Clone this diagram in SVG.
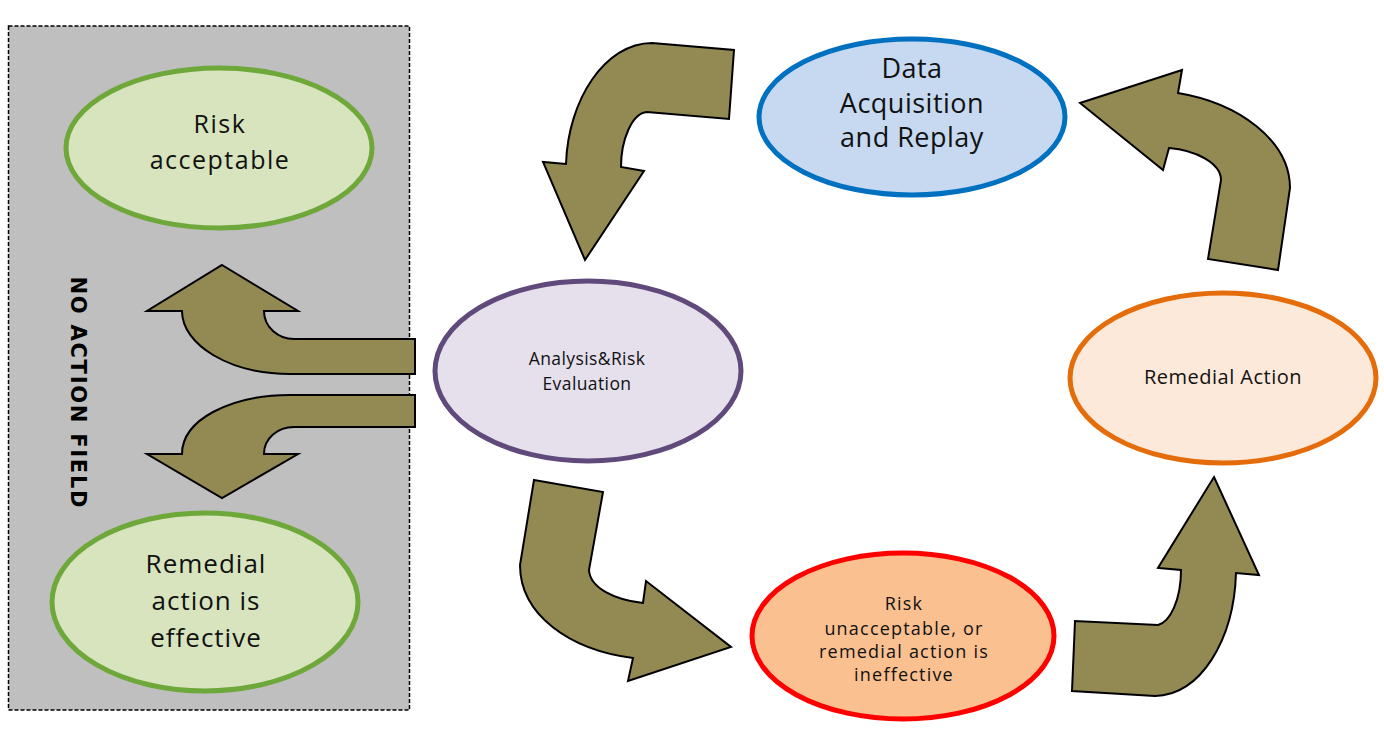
<svg xmlns="http://www.w3.org/2000/svg" width="1384" height="735" viewBox="0 0 1384 735">
  <style>
    .arrow { fill: #938953; stroke: #000; stroke-width: 2; stroke-linejoin: miter; }
    .node ellipse { stroke-width: 5; }
    .label { font-family: "Open Sans", "Liberation Sans", sans-serif; fill: #111; text-anchor: middle; }
    .big { font-size: 27px; letter-spacing: 0.5px; }
    .mid { font-size: 25px; letter-spacing: 1.5px; }
    .mid2 { font-size: 26px; letter-spacing: 1px; }
    .small { font-size: 17.5px; letter-spacing: 0.4px; }
    .small2 { font-size: 20px; letter-spacing: 0.5px; }
    .small3 { font-size: 18px; letter-spacing: 1.2px; }
  </style>

  <rect width="1384" height="735" fill="#fff"/>

  <!-- region without action -->
  <g id="no-action-field">
    <rect x="8.5" y="26" width="401" height="684" fill="#bfbfbf" stroke="#000" stroke-width="1.5" stroke-dasharray="4 2"/>
    <text transform="translate(71,392) rotate(90)" text-anchor="middle" textLength="231" lengthAdjust="spacing" font-family="'DejaVu Sans', 'Liberation Sans', sans-serif" font-weight="bold" font-size="21" fill="#000">NO ACTION FIELD</text>
  </g>

  <!-- flow arrows -->
  <g id="connectors">
    <path class="arrow" d="M734,50 L729,119 L647,112 C632,113 621,140 621,167 L644,171 L585,260 L543,162 L566,164 C568,100 605,43 652,43 Z"/>
    <path class="arrow" d="M1080,103 L1182,70 L1178,93 C1238,103 1290,140 1290,188 L1278,270 L1208,259 L1221,180 C1221,163 1195,150 1169,148 L1163,170 Z"/>
    <path class="arrow" d="M222,265 L298,311 L264,311 C264,327 278,339 294,339 L415,339 L415,374 L290,374 C230,374 182,345 182,311 L147,311 Z"/>
    <path class="arrow" d="M415,395 L290,395 C230,395 182,420 182,454 L147,454 L222,498 L298,454 L264,454 C264,438 278,427 294,427 L415,427 Z"/>
    <path class="arrow" d="M534,480 L603,492 L589,570 C590,588 615,600 643,603 L646,581 L731,647 L628,681 L633,658 C570,650 520,615 520,565 Z"/>
    <path class="arrow" d="M1214,477 L1259,575 L1236,573 C1234,640 1200,696 1155,696 L1072,691 L1075,621 L1158,625 C1170,622 1181,600 1181,570 L1158,568 Z"/>
  </g>

  <g id="risk-acceptable" class="node">
    <ellipse cx="219" cy="148" rx="153" ry="80" fill="#d7e4bd" stroke="#6fa83a"/>
    <text class="label mid" x="220" y="133">Risk</text>
    <text class="label mid" x="220" y="169">acceptable</text>
  </g>

  <g id="remedial-effective" class="node">
    <ellipse cx="205" cy="602" rx="153" ry="89" fill="#d7e4bd" stroke="#6fa83a"/>
    <text class="label mid2" x="206" y="573">Remedial</text>
    <text class="label mid2" x="206" y="610">action is</text>
    <text class="label mid2" x="206" y="647">effective</text>
  </g>

  <g id="data-acquisition" class="node">
    <ellipse cx="912" cy="117" rx="153" ry="78" fill="#c6d9f0" stroke="#0070c0"/>
    <text class="label big" x="912" y="78">Data</text>
    <text class="label big" x="912" y="113">Acquisition</text>
    <text class="label big" x="912" y="147">and Replay</text>
  </g>

  <g id="analysis" class="node">
    <ellipse cx="588" cy="371" rx="153" ry="90" fill="#e5e0ec" stroke="#604a7b"/>
    <text class="label small" x="587" y="365">Analysis&amp;Risk</text>
    <text class="label small" x="587" y="390">Evaluation</text>
  </g>

  <g id="remedial-action" class="node">
    <ellipse cx="1223" cy="378" rx="153" ry="85" fill="#fde9d9" stroke="#e46c0a"/>
    <text class="label small2" x="1223" y="384">Remedial Action</text>
  </g>

  <g id="risk-unacceptable" class="node">
    <ellipse cx="903" cy="636" rx="151" ry="83" fill="#fac090" stroke="#ff0000" stroke-width="6"/>
    <text class="label small3" x="904" y="610">Risk</text>
    <text class="label small3" x="904" y="635">unacceptable, or</text>
    <text class="label small3" x="904" y="658">remedial action is</text>
    <text class="label small3" x="904" y="681">ineffective</text>
  </g>
</svg>
